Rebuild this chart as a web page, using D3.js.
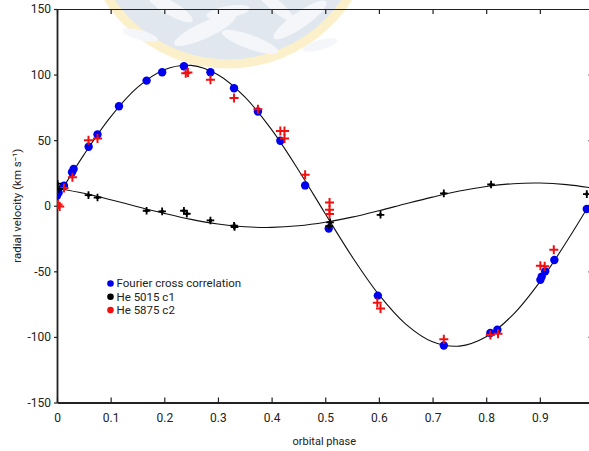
<!DOCTYPE html>
<html>
<head>
<meta charset="utf-8">
<script src="https://cdn.jsdelivr.net/npm/d3@7"></script>
<style>
  html, body { margin: 0; padding: 0; background: #fff; }
  svg { display: block; }
  text { font-family: Roboto, "Noto Sans", Arial, sans-serif; fill: #222; }
</style>
</head>
<body>
<script>
// Radial velocities against orbital phase
const phaseTicks = [0, 0.1, 0.2, 0.3, 0.4, 0.5, 0.6, 0.7, 0.8, 0.9];
const phaseTickLabels = ["0", "0.1", "0.2", "0.3", "0.4", "0.5", "0.6", "0.7", "0.8", "0.9"];
const velTicks = [-150, -100, -50, 0, 50, 100, 150];
const velTickLabels = ["-150", "-100", "-50", "0", "50", "100", "150"];

// Fourier cross correlation
const fccPhase = [0.000, 0.003, 0.013, 0.028, 0.031, 0.059, 0.0755, 0.1155, 0.167, 0.196, 0.2366, 0.286, 0.330, 0.3745, 0.4163, 0.4625, 0.5065, 0.598, 0.721, 0.8077, 0.8208, 0.9010, 0.9035, 0.910, 0.927, 0.9875];
const fccVel   = [7.6, 10.0, 15.2, 25.5, 28.0, 45.0, 54.3, 75.9, 95.4, 101.8, 106.4, 101.8, 89.6, 71.8, 49.5, 15.5, -17.3, -68.5, -106.6, -97.0, -94.5, -56.5, -54.0, -50.0, -41.4, -2.5];

// He 5015, component 1
const c1Phase = [0.001, 0.004, 0.0587, 0.0755, 0.167, 0.196, 0.2366, 0.242, 0.286, 0.330, 0.331, 0.5075, 0.509, 0.603, 0.721, 0.809, 0.9875];
const c1Vel   = [16.8, 12.8, 8.1, 6.3, -3.8, -4.3, -3.8, -6.1, -11.2, -15.2, -16.2, -15.5, -12.7, -6.9, 9.4, 16.2, 8.9];

// He 5875, component 2
const c2Phase = [0.002, 0.005, 0.013, 0.0287, 0.0587, 0.0755, 0.240, 0.244, 0.286, 0.330, 0.3745, 0.4163, 0.424, 0.424, 0.4625, 0.508, 0.508, 0.508, 0.597, 0.603, 0.721, 0.8077, 0.822, 0.901, 0.909, 0.926];
const c2Vel   = [1.0, -0.5, 13.5, 21.8, 50.0, 51.3, 101.0, 101.5, 96.0, 82.2, 73.6, 56.9, 56.9, 51.3, 23.6, 2.5, -3.0, -6.3, -74.0, -78.4, -101.8, -98.5, -97.5, -45.7, -46.2, -33.5];

// Orbit solutions, sampled every 0.05 in phase
const fitPhase = [0, 0.05, 0.1, 0.15, 0.2, 0.25, 0.3, 0.35, 0.4, 0.45, 0.5, 0.55, 0.6, 0.65, 0.7, 0.75, 0.8, 0.85, 0.9, 0.95, 1];
const fitVelPrimary   = [6.1, 38.8, 67.8, 90.2, 103.7, 107.0, 99.9, 83.0, 58.0, 27.3, -6.1, -38.8, -67.8, -90.2, -103.7, -107.0, -99.9, -83.0, -58.0, -27.3, 6.1];
const fitVelSecondary = [13.4, 9.5, 4.6, -0.7, -5.8, -10.4, -13.9, -16.0, -16.5, -15.3, -12.6, -8.7, -3.8, 1.5, 6.6, 11.2, 14.7, 16.8, 17.3, 16.1, 13.4];

const legendItems = [
  { label: "Fourier cross correlation", color: "#0000f0" },
  { label: "He 5015 c1", color: "#000000" },
  { label: "He 5875 c2", color: "#f01010" }
];

const W = 589, H = 451;
const plotLeft = 57, plotRight = 593.5, plotTop = 9, plotBottom = 402.5;

const svg = d3.select("body").append("svg")
  .attr("width", W).attr("height", H)
  .attr("viewBox", `0 0 ${W} ${H}`);

svg.append("rect").attr("width", W).attr("height", H).attr("fill", "#fff");

const x = d3.scaleLinear().domain([0, 1]).range([plotLeft, plotRight]);
const y = d3.scaleLinear().domain([-150, 150]).range([plotBottom, plotTop]);

// faint emblem behind the top of the plot
const emblem = svg.append("g").attr("opacity", 0.95);
emblem.append("circle")
  .attr("cx", 228).attr("cy", -78).attr("r", 142)
  .attr("fill", "#dfe6ef").attr("stroke", "#fcf0c8").attr("stroke-width", 9);
const leaves = [
  [205, 30, 34, 8, -25], [250, 42, 30, 7, 20], [300, 20, 32, 8, -35],
  [170, 8, 26, 7, 30], [228, 12, 22, 6, -10], [275, 5, 24, 6, 40],
  [320, 45, 18, 5, -15], [140, 35, 18, 5, 15]
];
emblem.selectAll("ellipse.leaf").data(leaves).enter().append("ellipse")
  .attr("class", "leaf")
  .attr("cx", d => d[0]).attr("cy", d => d[1])
  .attr("rx", d => d[2]).attr("ry", d => d[3])
  .attr("transform", d => `rotate(${d[4]},${d[0]},${d[1]})`)
  .attr("fill", "#f4f6f9");

// clip to the plotting area
svg.append("clipPath").attr("id", "plotArea")
  .append("rect").attr("x", plotLeft).attr("y", plotTop)
  .attr("width", plotRight - plotLeft).attr("height", plotBottom - plotTop);

// axes
const axisColor = "#222";
const gBottom = svg.append("g").attr("transform", `translate(0,${plotBottom})`)
  .call(d3.axisBottom(x).tickValues(phaseTicks)
    .tickFormat((d, i) => phaseTickLabels[i]).tickSize(-5).tickSizeOuter(0).tickPadding(11));
const gTop = svg.append("g").attr("transform", `translate(0,${plotTop})`)
  .call(d3.axisTop(x).tickValues(phaseTicks).tickFormat("").tickSize(-5).tickSizeOuter(0));
const gLeft = svg.append("g").attr("transform", `translate(${plotLeft},0)`)
  .call(d3.axisLeft(y).tickValues(velTicks)
    .tickFormat((d, i) => velTickLabels[i]).tickSize(3).tickSizeOuter(0).tickPadding(3));
const gRight = svg.append("g").attr("transform", `translate(${plotRight},0)`)
  .call(d3.axisRight(y).tickValues(velTicks).tickFormat("").tickSize(-5).tickSizeOuter(0));

[gBottom, gLeft].forEach(g => {
  g.select(".domain").attr("stroke", axisColor).attr("stroke-width", 1.8);
  g.selectAll(".tick line").attr("stroke", axisColor).attr("stroke-width", 1.2);
  g.selectAll(".tick text").attr("fill", "#222").style("font-size", "12px")
    .style("font-family", "Roboto, 'Noto Sans', Arial, sans-serif");
});
[gTop, gRight].forEach(g => {
  g.select(".domain").attr("stroke", axisColor).attr("stroke-width", 1.2);
  g.selectAll(".tick line").attr("stroke", axisColor).attr("stroke-width", 1.2);
});

// axis titles
svg.append("text")
  .attr("x", (plotLeft + plotRight) / 2 - 1).attr("y", 445)
  .attr("text-anchor", "middle").style("font-size", "11px")
  .text("orbital phase");
svg.append("text")
  .attr("transform", `translate(21,${(plotTop + plotBottom) / 2}) rotate(-90)`)
  .attr("text-anchor", "middle").style("font-size", "11.5px")
  .text("radial velocity (km s\u207B\u00B9)");

const plot = svg.append("g").attr("clip-path", "url(#plotArea)");

// orbit solution curves
const line = d3.line().curve(d3.curveCatmullRom.alpha(0.5))
  .x(d => x(d[0])).y(d => y(d[1]));
[fitVelPrimary, fitVelSecondary].forEach(vals => {
  plot.append("path")
    .datum(fitPhase.map((p, i) => [p, vals[i]]))
    .attr("d", line)
    .attr("fill", "none").attr("stroke", "#111").attr("stroke-width", 1.1);
});

// Fourier cross correlation points
plot.selectAll("circle.fcc")
  .data(fccPhase.map((p, i) => [p, fccVel[i]]))
  .enter().append("circle").attr("class", "fcc")
  .attr("cx", d => x(d[0])).attr("cy", d => y(d[1]))
  .attr("r", 4.2).attr("fill", legendItems[0].color);

// He 5875 c2 points (plus markers)
const plus = (s) => `M${-s},0H${s}M0,${-s}V${s}`;
plot.selectAll("path.c2")
  .data(c2Phase.map((p, i) => [p, c2Vel[i]]))
  .enter().append("path").attr("class", "c2")
  .attr("transform", d => `translate(${x(d[0])},${y(d[1])})`)
  .attr("d", plus(4.5))
  .attr("stroke", legendItems[2].color).attr("stroke-width", 2).attr("fill", "none");

// He 5015 c1 points
const c1 = plot.selectAll("g.c1")
  .data(c1Phase.map((p, i) => [p, c1Vel[i]]))
  .enter().append("g").attr("class", "c1")
  .attr("transform", d => `translate(${x(d[0])},${y(d[1])})`);
c1.append("path").attr("d", plus(3.8))
  .attr("stroke", legendItems[1].color).attr("stroke-width", 1.8).attr("fill", "none");
c1.append("circle").attr("r", 1.8).attr("fill", legendItems[1].color);

// legend
const legend = svg.append("g").attr("transform", "translate(110.5,283.5)");
legendItems.forEach((item, i) => {
  const row = legend.append("g").attr("transform", `translate(0,${i * 13.3})`);
  row.append("circle").attr("r", 3.3).attr("fill", item.color);
  row.append("text").attr("x", 6).attr("y", 3.8)
    .style("font-size", "11.5px").text(item.label);
});
</script>
</body>
</html>
